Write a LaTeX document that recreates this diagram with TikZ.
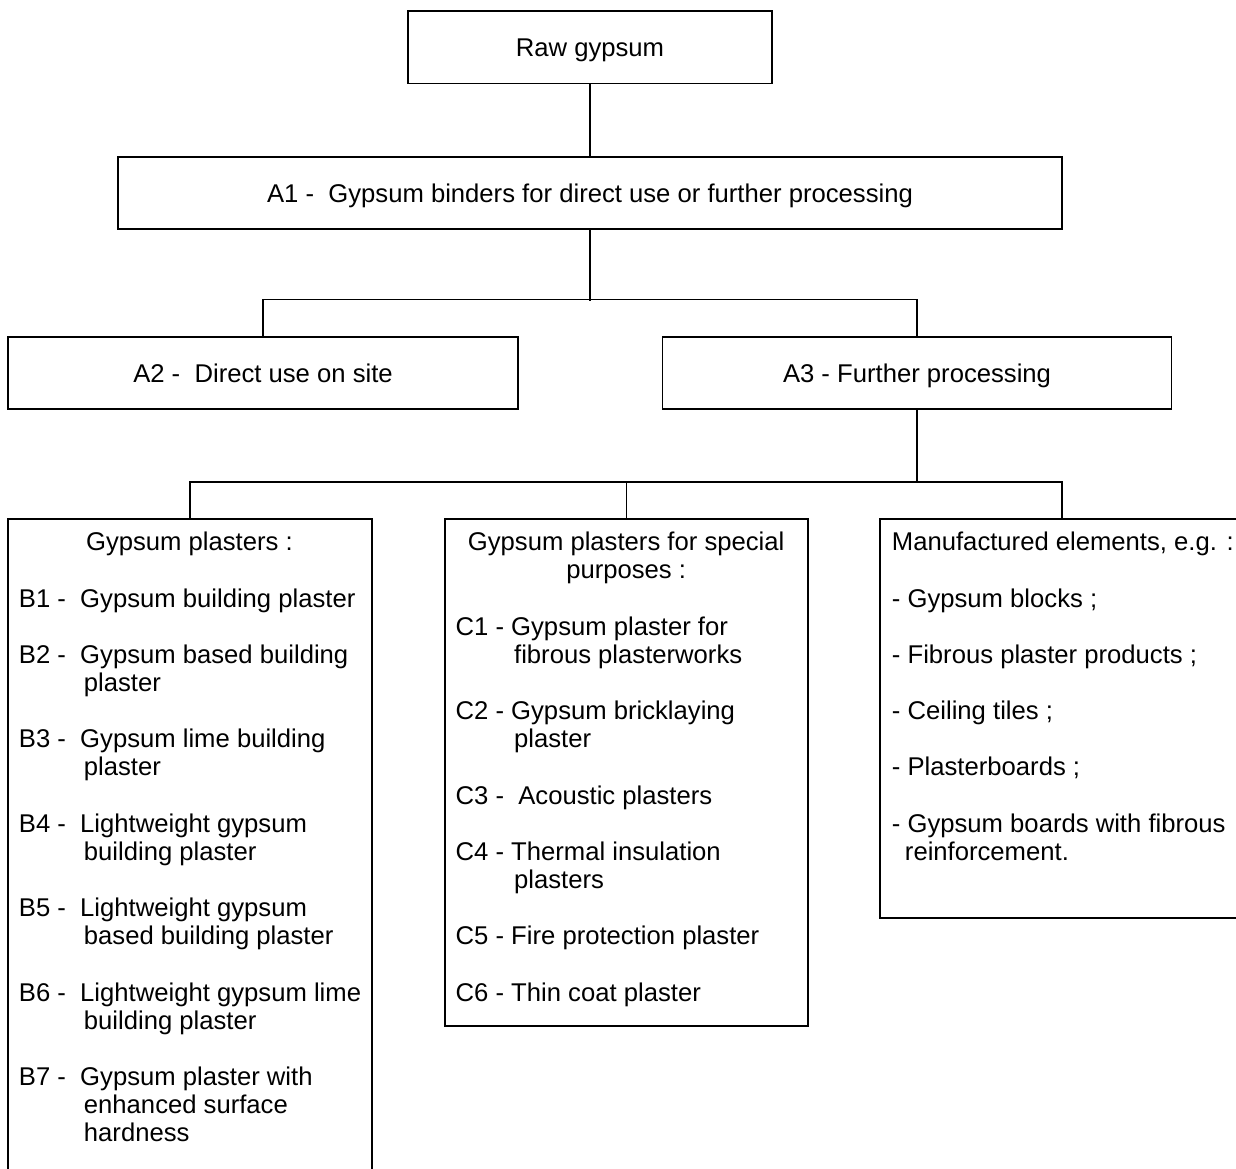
\documentclass[tikz,border=0pt]{standalone}
\usepackage{fontspec}
\setmainfont{Liberation Sans}
\usepackage{xcolor}
\usetikzlibrary{positioning,calc}
\definecolor{ln}{HTML}{000000}
\definecolor{tx}{HTML}{000000}
\newcommand{\Ind}[1]{\hspace*{#1}}
\newcommand{\Gap}{\\[28.15pt]}
\tikzset{
  box/.style={draw=ln, line width=1.5pt, inner sep=0pt, text=tx,
    text height=19.5pt, text depth=1pt,
    font=\fontsize{25.65}{28.15}\selectfont},
  list/.style={anchor=north west, inner sep=0pt, align=left, text=tx,
    font=\fontsize{25.65}{28.15}\selectfont, yshift=-12.8pt},
  link/.style={draw=ln, line width=1.5pt}
}

\begin{document}
\begin{tikzpicture}[x=1pt, y=-1pt]
  \useasboundingbox (0,0) rectangle (1236,1169);
  \clip (0,0) rectangle (1236,1169);
  % upper levels
  \node[box, minimum width=364pt, minimum height=72.5pt] (raw) at (590,47.3) {Raw gypsum};
  \node[box, minimum width=944pt, minimum height=72pt] (a1) at (590,193) {A1 -~ Gypsum binders for direct use or further processing};
  \node[box, minimum width=510pt, minimum height=72pt] (a2) at (263,373) {A2 -~ Direct use on site};
  \node[box, minimum width=509pt, minimum height=72pt] (a3) at (917,373) {A3 - Further processing};
  % lower boxes
  \node[box, anchor=north, minimum width=364pt, minimum height=680pt] (bbox) at (190,518) {};
  \node[box, anchor=north, minimum width=363pt, minimum height=507pt] (cbox) at (626.5,518) {};
  \node[box, anchor=north, minimum width=364pt, minimum height=399pt] (mbox) at (1062,518) {};
  \node[list, xshift=11.5pt] (btext) at (bbox.north west) {%
    \strut\makebox[341pt]{Gypsum plasters :}\Gap
    B1 -~ Gypsum building plaster\Gap
    B2 -~ Gypsum based building\\
    \Ind{65pt}plaster\Gap
    B3 -~ Gypsum lime building\\
    \Ind{65pt}plaster\Gap
    B4 -~ Lightweight gypsum\\
    \Ind{65pt}building plaster\Gap
    B5 -~ Lightweight gypsum\\
    \Ind{65pt}based building plaster\Gap
    B6 -~ Lightweight gypsum lime\\
    \Ind{65pt}building plaster\Gap
    B7 -~ Gypsum plaster with\\
    \Ind{65pt}enhanced surface\\
    \Ind{65pt}hardness};
  \node[list, xshift=11.2pt] (ctext) at (cbox.north west) {%
    \strut\makebox[341pt]{Gypsum plasters for special}\\
    \makebox[341pt]{purposes :}\Gap
    C1 - Gypsum plaster for\\
    \Ind{58.5pt}fibrous plasterworks\Gap
    C2 - Gypsum bricklaying\\
    \Ind{58.5pt}plaster\Gap
    C3 -~ Acoustic plasters\Gap
    C4 - Thermal insulation\\
    \Ind{58.5pt}plasters\Gap
    C5 - Fire protection plaster\Gap
    C6 - Thin coat plaster};
  \node[list, xshift=12.5pt] (mtext) at (mbox.north west) {%
    \strut Manufactured elements, e.g. :\Gap
    - Gypsum blocks ;\Gap
    - Fibrous plaster products ;\Gap
    - Ceiling tiles ;\Gap
    - Plasterboards ;\Gap
    - Gypsum boards with fibrous\\
    \Ind{13pt}reinforcement.};
  % connectors
  \draw[link] (raw.south) -- (a1.north);
  \draw[link] (a1.south) -- ++(0,71) coordinate (j1);
  \draw[link] (a2.north) -- ++(0,-37) -| (a3.north);
  \draw[link] (a3.south) -- ++(0,73) coordinate (j2);
  \draw[link] (bbox.north) -- ++(0,-36) -| (mbox.north);
  \draw[link] (cbox.north) -- ++(0,-36);
\end{tikzpicture}
\end{document}
